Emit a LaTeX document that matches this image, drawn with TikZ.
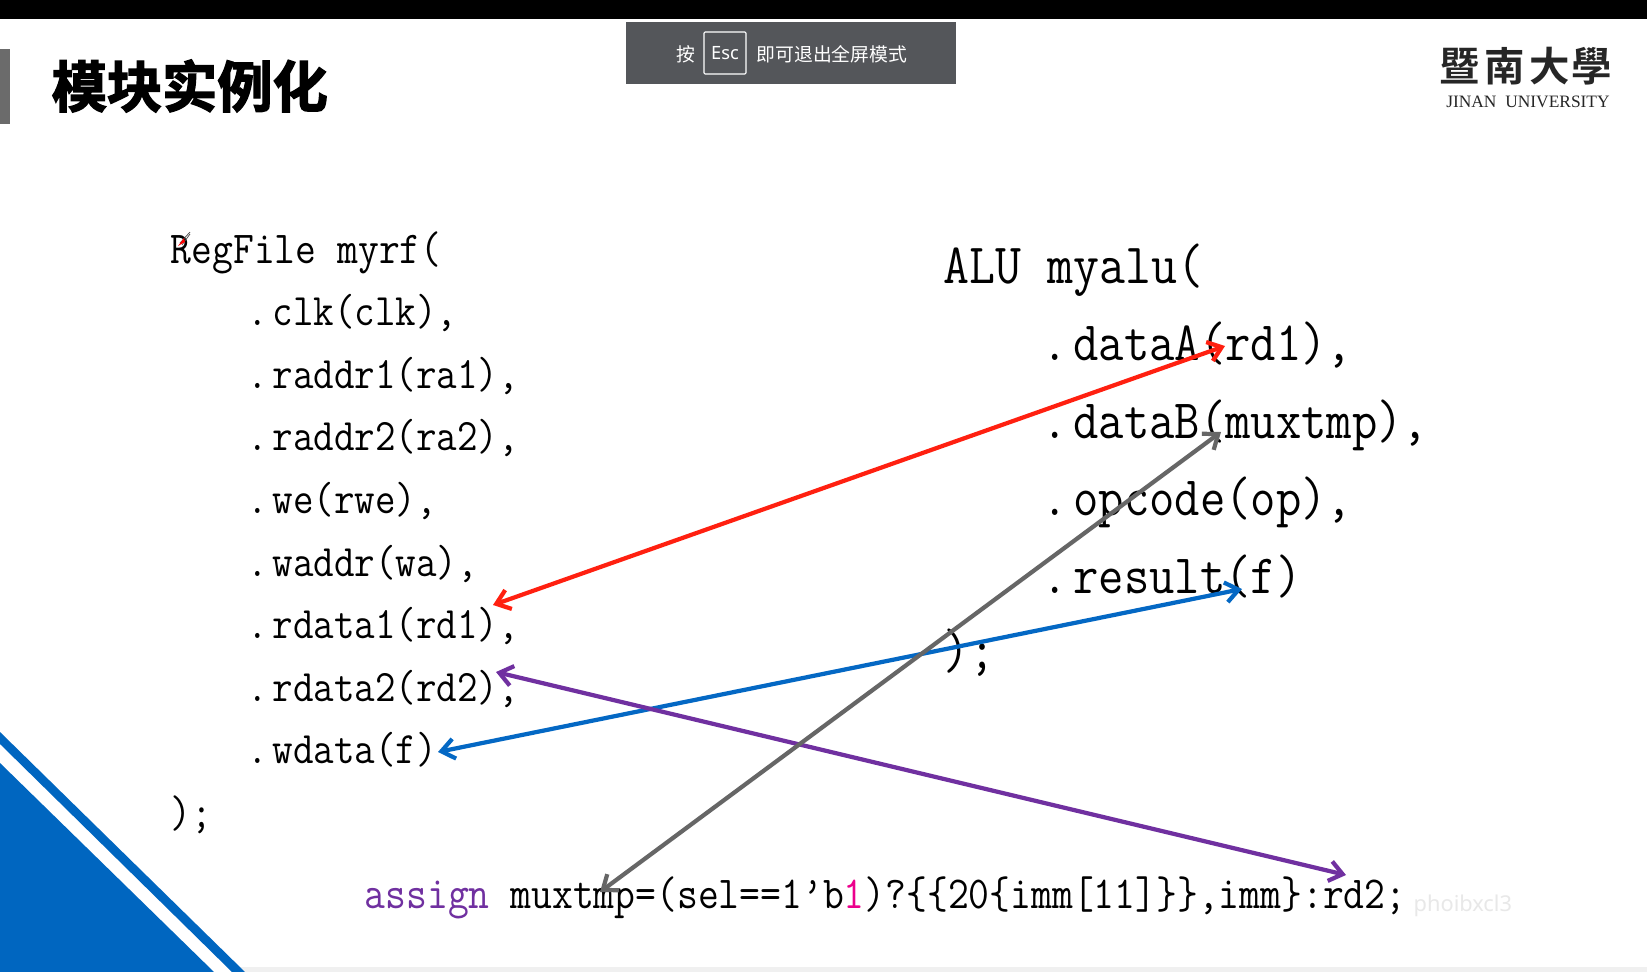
\documentclass[tikz,border=0pt]{standalone}
\usepackage{fontspec}
\usepackage{tikz}
\usetikzlibrary{arrows.meta}

\setmonofont[FakeStretch=0.885]{Latin Modern Mono}
\newfontfamily\cjk{Noto Sans CJK SC}
\newfontfamily\cjkbold[FakeBold=2.5]{Noto Sans CJK SC Bold}
\newfontfamily\cjktc{Noto Sans CJK TC Bold}
\newfontfamily\notefont{Noto Sans}
\setmainfont{Liberation Serif}

\definecolor{barblue}{HTML}{0066C0}
\definecolor{wirered}{HTML}{FF2010}
\definecolor{wireblue}{HTML}{0468C4}
\definecolor{wirepurple}{HTML}{7030A0}
\definecolor{wiregray}{HTML}{666666}
\definecolor{escgray}{HTML}{54565A}

\newcommand{\dotk}{.\kern0.1em}

\tikzset{
  rfline/.style={anchor=base west, inner sep=0pt, font=\ttfamily\fontsize{13}{13}\selectfont},
  rfitem/.style={anchor=base west, inner sep=0pt, font=\ttfamily\fontsize{12.8}{12.8}\selectfont},
  aluline/.style={anchor=base west, inner sep=0pt, font=\ttfamily\fontsize{16.2}{16.2}\selectfont},
  aluitem/.style={anchor=base west, inner sep=0pt, font=\ttfamily\fontsize{15.8}{15.8}\selectfont},
  wire/.style={line width=1.2pt, <->, >={Straight Barb[length=1.3mm,width=2.0mm]}},
  esctext/.style={inner sep=0pt, text=white, font=\cjk\fontsize{5.35}{5.35}\selectfont},
}

\begin{document}
\begin{tikzpicture}[x=0.01cm,y=-0.01cm]

\useasboundingbox (0,0) rectangle (1647,972);
\fill [white] (0,0) rectangle (1647,972);

% page furniture
\fill [black] (0,0) rectangle (1647,19);
\fill [black!58] (0,49) rectangle (10,124);
\fill [black!6] (232,967) rectangle (1647,972);
\fill [barblue] (0,763) -- (214,972) -- (0,972) -- cycle;
\fill [barblue] (0,732) -- (245,972) -- (232,972) -- (0,744) -- cycle;

\node [anchor=west, inner sep=0pt, font=\cjkbold\fontsize{15.7}{15.7}\selectfont] (title) at (51,86) {模块实例化};

% esc banner
\fill [escgray] (626,22) rectangle (956,84);
\node [esctext] (press) at (686,54) {按};
\node [draw=white, line width=0.3pt, rounded corners=0.3pt, minimum width=42*0.01cm, minimum height=42*0.01cm, inner sep=0pt,
       text=white, font=\notefont\bfseries\fontsize{5.2}{5.2}\selectfont] (esc) at (725,53) {Esc};
\node [esctext, anchor=west] (quit) at (756,54) {即可退出全屏模式};

% logo
\foreach \x/\c in {1460/暨,1505/南,1550/大,1592/學}
    \node [inner sep=0pt, text=black!85, font=\cjktc\fontsize{11.5}{11.5}\selectfont] (logo\x) at (\x,66) {\c};
\node [anchor=base, inner sep=0pt, text=black!85, font=\rmfamily\fontsize{4.95}{4.95}\selectfont] (jnu) at (1528,107) {JINAN\ \ UNIVERSITY};

% RegFile
\node [rfline] (rf0) at (170,263) {RegFile myrf(};
\foreach \i/\s in {1/{\dotk clk(clk),},2/{\dotk raddr1(ra1),},3/{\dotk raddr2(ra2),},4/{\dotk we(rwe),},
                   5/{\dotk waddr(wa),},6/{\dotk rdata1(rd1),},7/{\dotk rdata2(rd2),},8/{\dotk wdata(f)}}
    \node [rfitem] (rf\i) at (247,{263+62.6*\i}) {\s};
\node [rfline] (rfend) at (170,827) {);};

% ALU
\node [aluline] (alu0) at (943,283) {ALU myalu(};
\foreach \i/\s in {1/{\dotk dataA(rd1),},2/{\dotk dataB(muxtmp),},3/{\dotk opcode(op),},4/{\dotk result(f)}}
    \node [aluitem] (alu\i) at (1042,{283+77.5*\i}) {\s};
\node [aluline] (aluend) at (943,668) {);};

% mux
\node [rfline] (mux) at (364,908) {\textcolor{wirepurple}{assign} muxtmp=(sel==1’b\textcolor{magenta}{1})?\{\{20\{imm[11]\}\},imm\}:rd2;};

\node [anchor=base west, inner sep=0pt, text=black!9, font=\notefont\fontsize{6.2}{6.2}\selectfont] (mark) at (1413,911) {phoibxcl3};

% pen cursor
\draw [line width=0.2pt, black!70] (180,243) -- (190,232) (182,245) -- (190,234);
\fill [red] (178,246) -- (184,238) -- (185,242) -- cycle;

\coordinate (rd1L) at (493,605);
\coordinate (rd1R) at (1225,346);
\coordinate (fL) at (438,752);
\coordinate (fR) at (1242,589);
\coordinate (rd2L) at (496,672);
\coordinate (rd2R) at (1346,875);
\coordinate (tmpL) at (600,892);
\coordinate (tmpR) at (1221,432);

\draw [wire, wirered] (rd1L) -- (rd1R);
\draw [wire, wireblue] (fL) -- (fR);
\draw [wire, wirepurple] (rd2L) -- (rd2R);
\draw [wire, wiregray] (tmpL) -- (tmpR);

\end{tikzpicture}
\end{document}
